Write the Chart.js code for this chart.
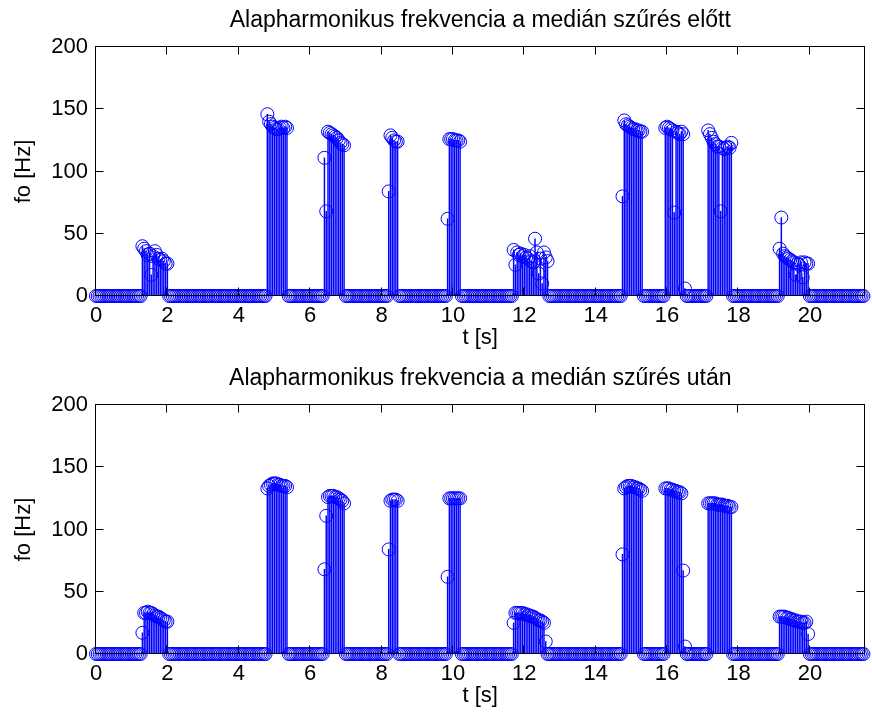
<!DOCTYPE html>
<html>
<head>
<meta charset="utf-8">
<script src="https://cdn.jsdelivr.net/npm/chart.js@4.4.1/dist/chart.umd.min.js"></script>
<style>
  body { margin: 0; background: #fff; }
  canvas { position: absolute; left: 0; }
  #topChart { top: 0; }
  #bottomChart { top: 360px; }
</style>
</head>
<body>
<canvas id="topChart" width="872" height="360"></canvas>
<canvas id="bottomChart" width="872" height="360"></canvas>
<script>
// frame grid (s) and axis ticks
const frameStep = 0.05;
const frameCount = 431;
const xTicks = [0, 2, 4, 6, 8, 10, 12, 14, 16, 18, 20];
const yTicks = [0, 50, 100, 150, 200];

// voiced segments before the median filter: start time + f0 values, everything else is 0
const beforeStarts = [1.30, 4.80, 6.40, 8.20, 9.85, 11.70, 14.75, 15.95, 17.15, 19.15];
const beforeValues = [
  [40, 38, 36, 33, 34, 17, 32, 36, 33, 30, 29, 30, 28, 26, 26],
  [146, 140, 138, 136, 135, 134, 134, 135, 136, 135, 136, 135],
  [111, 68, 132, 131, 130, 129, 128, 127, 125, 123, 122, 121],
  [84, 129, 127, 125, 124, 124],
  [62, 126, 126, 126, 125, 125, 125, 124],
  [37, 25, 35, 33, 34, 32, 33, 31, 30, 32, 28, 27, 46, 35, 18, 30, 10, 35, 31, 28],
  [80, 141, 138, 137, 136, 135, 134, 134, 133, 133, 132, 132],
  [135, 136, 135, 134, 133, 67, 132, 131, 130, 132, 130, 6],
  [133, 130, 127, 124, 122, 120, 120, 68, 119, 118, 119, 120, 119, 123],
  [38, 63, 34, 32, 31, 30, 29, 28, 27, 17, 26, 25, 27, 15, 27, 26, 26]
];

// after the median filter
const afterStarts = [1.30, 4.80, 6.40, 8.20, 9.85, 11.70, 14.75, 15.95, 17.15, 19.15];
const afterValues = [
  [17, 33, 33, 34, 33, 33, 32, 31, 30, 30, 29, 28, 27, 26, 26],
  [133, 135, 136, 137, 137, 137, 136, 136, 135, 135, 135, 134],
  [68, 111, 126, 127, 127, 127, 126, 126, 125, 124, 123, 121],
  [84, 123, 124, 124, 124, 123],
  [62, 125, 125, 125, 125, 125, 125, 125],
  [25, 33, 33, 33, 33, 33, 32, 32, 31, 31, 30, 30, 29, 28, 27, 27, 26, 25, 10],
  [80, 133, 134, 135, 135, 135, 134, 134, 133, 133, 132, 131],
  [133, 133, 133, 132, 132, 131, 131, 130, 130, 129, 67, 6],
  [121, 121, 121, 121, 121, 120, 120, 120, 120, 119, 119, 119, 118, 118],
  [30, 30, 30, 30, 29, 29, 28, 28, 27, 27, 26, 26, 26, 25, 25, 26, 16]
];

function buildSeries(starts, values) {
  let pts = [];
  for (let i = 0; i < frameCount; i++) {
    pts.push({ x: Math.round(i * frameStep * 100) / 100, y: 0 });
  }
  starts.forEach((s, k) => {
    let first = Math.round(s / frameStep);
    values[k].forEach((v, j) => { pts[first + j].y = v; });
  });
  return pts;
}

const FONT = '"Liberation Sans", Arial, Helvetica, sans-serif';
const blue = '#0000ff';

// box, inward ticks, title and axis labels the matlab way
const framePlugin = {
  id: 'frame',
  afterDatasetsDraw(chart, args, opts) {
    const ctx = chart.ctx;
    const a = chart.chartArea;
    const sx = chart.scales.x, sy = chart.scales.y;
    const L = Math.round(a.left) - 0.5, R = Math.round(a.right) - 0.5;
    const T = Math.round(a.top) - 0.5, B = Math.round(a.bottom) - 0.5;
    ctx.save();
    ctx.strokeStyle = '#000';
    ctx.lineWidth = 1;
    ctx.strokeRect(L, T, R - L, B - T);
    ctx.beginPath();
    xTicks.forEach(v => {
      let px = Math.round(sx.getPixelForValue(v)) - 0.5;
      ctx.moveTo(px, B); ctx.lineTo(px, B - 8);
      ctx.moveTo(px, T); ctx.lineTo(px, T + 8);
    });
    yTicks.forEach(v => {
      let py = Math.round(sy.getPixelForValue(v)) - 0.5;
      ctx.moveTo(L, py); ctx.lineTo(L + 8, py);
      ctx.moveTo(R, py); ctx.lineTo(R - 8, py);
    });
    ctx.stroke();

    ctx.fillStyle = '#000';
    ctx.textAlign = 'center';
    ctx.textBaseline = 'middle';
    const cx = (a.left + a.right) / 2;
    ctx.font = '23px ' + FONT;
    ctx.fillText(opts.title, cx, a.top - 26);
    ctx.font = '22px ' + FONT;
    ctx.fillText('t [s]', cx, a.bottom + 42);
    ctx.translate(24, (a.top + a.bottom) / 2);
    ctx.rotate(-Math.PI / 2);
    ctx.fillText('fo [Hz]', 0, 0);
    ctx.restore();
  }
};

function makeChart(id, series, title, padTop, axisH) {
  return new Chart(document.getElementById(id), {
    type: 'bar',
    data: {
      datasets: [
        {
          type: 'scatter',
          data: series,
          showLine: false,
          pointRadius: 6.5,
          pointBorderWidth: 1,
          pointBorderColor: blue,
          pointBackgroundColor: 'rgba(0,0,0,0)',
          clip: false,
          order: 0
        },
        {
          type: 'bar',
          data: series,
          backgroundColor: blue,
          borderWidth: 0,
          barThickness: 0.8,
          order: 1
        }
      ]
    },
    options: {
      responsive: false,
      animation: false,
      devicePixelRatio: 1,
      events: [],
      layout: { padding: { top: padTop, right: 1, left: 0, bottom: 0 } },
      plugins: {
        legend: { display: false },
        tooltip: { enabled: false },
        frame: { title: title }
      },
      scales: {
        x: {
          type: 'linear',
          offset: false,
          min: 0,
          max: 21.53,
          afterBuildTicks: s => { s.ticks = xTicks.map(v => ({ value: v })); },
          afterFit: s => { s.height = axisH; },
          grid: { display: false, drawTicks: false, offset: false },
          border: { display: false },
          ticks: { color: '#000', font: { family: FONT, size: 22 }, padding: 7, maxRotation: 0, autoSkip: false }
        },
        y: {
          min: 0,
          max: 200,
          afterBuildTicks: s => { s.ticks = yTicks.map(v => ({ value: v })); },
          afterFit: s => { s.width = 96; },
          grid: { display: false, drawTicks: false },
          border: { display: false },
          ticks: { color: '#000', font: { family: FONT, size: 22 }, padding: 8 }
        }
      }
    },
    plugins: [framePlugin]
  });
}

makeChart('topChart', buildSeries(beforeStarts, beforeValues),
  'Alapharmonikus frekvencia a medián szűrés előtt', 47, 64);
makeChart('bottomChart', buildSeries(afterStarts, afterValues),
  'Alapharmonikus frekvencia a medián szűrés után', 45, 66);
</script>
</body>
</html>
